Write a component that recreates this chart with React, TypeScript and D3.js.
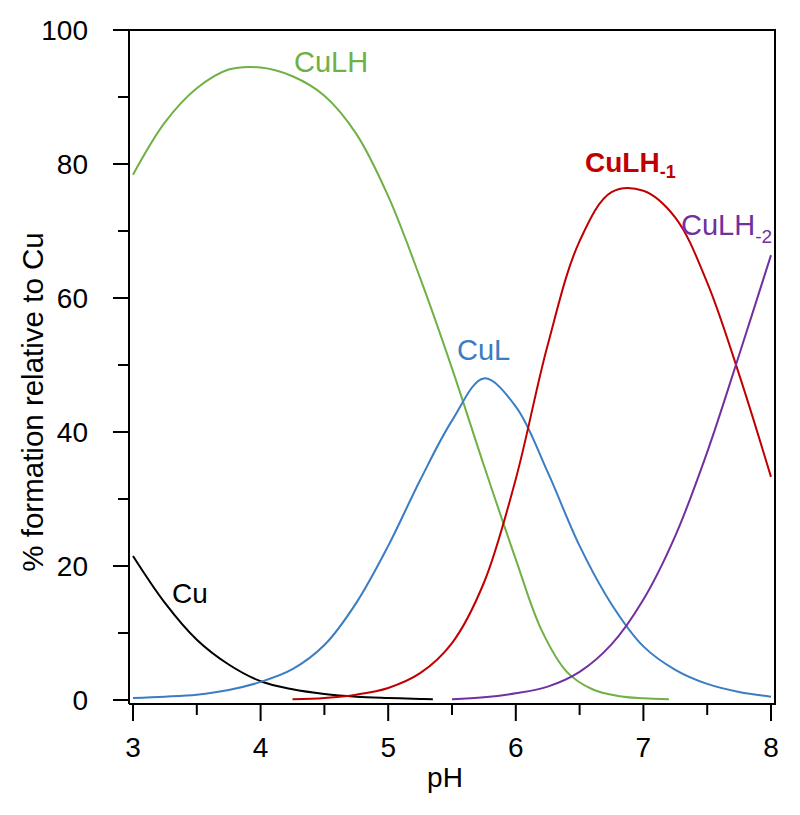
import React from 'react';
import * as d3 from 'd3';

// pH grid used by the species curves
const pHGrid = [3, 3.25, 3.5, 3.75, 4, 4.25, 4.5, 4.75, 5, 5.25, 5.5, 5.75, 6, 6.25, 6.5, 6.75, 7, 7.25, 7.5, 7.75, 8];

const cuPH = [3, 3.25, 3.5, 3.75, 4, 4.25, 4.5, 4.75, 5, 5.25, 5.35];
const cuVals = [21.5, 14.5, 9, 5.3, 2.8, 1.6, 0.9, 0.5, 0.3, 0.15, 0.1];

const culhPH = [3, 3.25, 3.5, 3.75, 4, 4.25, 4.5, 4.75, 5, 5.25, 5.5, 5.75, 6, 6.2, 6.4, 6.6, 6.8, 7, 7.2];
const culhVals = [78.4, 86.2, 91.3, 94.1, 94.4, 93.1, 90.2, 84.5, 75.2, 63, 49.5, 35, 21, 10.5, 4.2, 1.6, 0.6, 0.25, 0.1];

const culVals = [0.3, 0.5, 0.8, 1.5, 2.7, 4.6, 8.2, 14.5, 23, 32.8, 41.7, 48, 43.8, 34, 23, 14.3, 8, 4.5, 2.4, 1.2, 0.5];

const culhm1PH = [4.25, 4.5, 4.75, 5, 5.25, 5.5, 5.75, 6, 6.25, 6.5, 6.75, 7, 7.25, 7.5, 7.75, 8];
const culhm1Vals = [0.1, 0.3, 0.8, 1.8, 4, 8.5, 17.5, 33, 53, 68.5, 75.8, 76, 72, 62.3, 48.6, 33.3];

const culhm2PH = [5.5, 5.75, 6, 6.25, 6.5, 6.75, 7, 7.25, 7.5, 7.75, 8];
const culhm2Vals = [0.1, 0.4, 1.0, 2.0, 4.2, 8.3, 15, 24.5, 37, 51.5, 66.4];

const xTicks = [3, 4, 5, 6, 7, 8];
const xMinor = [3.5, 4.5, 5.5, 6.5, 7.5];
const yTicks = [0, 20, 40, 60, 80, 100];
const yMinor = [10, 30, 50, 70, 90];

const FONT = '"Liberation Sans", Arial, sans-serif';

export default function App() {
  const x = d3.scaleLinear().domain([3, 8]).range([133, 771]);
  const y = d3.scaleLinear().domain([0, 100]).range([700, 30]);

  const line = d3
    .line<[number, number]>()
    .x(d => x(d[0]))
    .y(d => y(d[1]))
    .curve(d3.curveCatmullRom.alpha(0.5));

  const zip = (xs: number[], vs: number[]) => xs.map((p, i) => [p, vs[i]] as [number, number]);

  const series = [
    { pts: zip(cuPH, cuVals), color: '#000000' },
    { pts: zip(culhPH, culhVals), color: '#70b044' },
    { pts: zip(pHGrid, culVals), color: '#3a7dc2' },
    { pts: zip(culhm1PH, culhm1Vals), color: '#c00000' },
    { pts: zip(culhm2PH, culhm2Vals), color: '#7030a0' },
  ];

  const left = 129, right = 775, top = 30, bottom = 704;

  return (
    <svg width={800} height={815} style={{ position: 'absolute', left: 0, top: 0 }} fontFamily={FONT}>
      <rect width={800} height={815} fill="#fff" />

      {series.map((s, i) => (
        <path key={i} d={line(s.pts) || ''} fill="none" stroke={s.color} strokeWidth={2} />
      ))}

      {/* frame */}
      <path
        d={`M${left},${bottom}V${top}H${right}V${bottom}H${left}`}
        fill="none"
        stroke="#000"
        strokeWidth={2}
      />

      {/* y ticks */}
      {yTicks.map(t => (
        <g key={'y' + t}>
          <line x1={113} x2={left} y1={y(t)} y2={y(t)} stroke="#000" strokeWidth={2} />
          <text x={88} y={y(t)} dy="0.36em" textAnchor="end" fontSize={28}>
            {t}
          </text>
        </g>
      ))}
      {yMinor.map(t => (
        <line key={'ym' + t} x1={118} x2={left} y1={y(t)} y2={y(t)} stroke="#000" strokeWidth={2} />
      ))}

      {/* x ticks */}
      {xTicks.map(t => (
        <g key={'x' + t}>
          <line x1={x(t)} x2={x(t)} y1={bottom} y2={721} stroke="#000" strokeWidth={2} />
          <text x={x(t)} y={757} textAnchor="middle" fontSize={28}>
            {t}
          </text>
        </g>
      ))}
      {xMinor.map(t => (
        <line key={'xm' + t} x1={x(t)} x2={x(t)} y1={bottom} y2={715} stroke="#000" strokeWidth={2} />
      ))}

      <text x={445} y={787} textAnchor="middle" fontSize={28}>
        pH
      </text>
      <text transform="translate(43,402) rotate(-90)" textAnchor="middle" fontSize={29.5}>
        % formation relative to Cu
      </text>

      {/* species labels */}
      <text x={172} y={603} fontSize={28} fill="#000">Cu</text>
      <text x={294} y={72} fontSize={29} fill="#70b044">CuLH</text>
      <text x={457} y={360} fontSize={29} fill="#3a7dc2">CuL</text>
      <text x={585} y={172} fontSize={28} fontWeight="bold" fill="#c00000">
        CuLH<tspan fontSize={18} dy={6}>-1</tspan>
      </text>
      <text x={681} y={235} fontSize={29} fill="#7030a0">
        CuLH<tspan fontSize={19} dy={8}>-2</tspan>
      </text>
    </svg>
  );
}
